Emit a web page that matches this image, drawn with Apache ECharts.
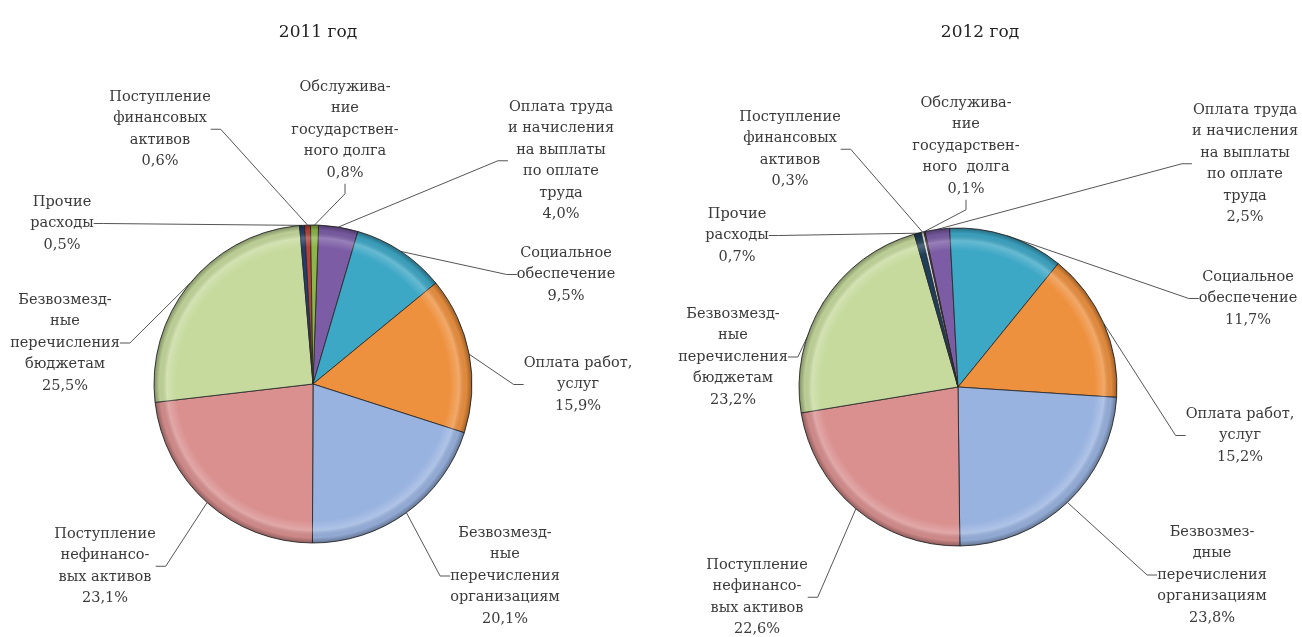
<!DOCTYPE html>
<html>
<head>
<meta charset="utf-8">
<script src="https://cdn.jsdelivr.net/npm/echarts@6/dist/echarts.min.js"></script>
<style>
html,body{margin:0;padding:0;background:#fff;}
#chart{width:1302px;height:637px;}
</style>
</head>
<body>
<div id="chart"></div>
<script>
// ---- data ----
const titles = ['2011 год', '2012 год'];
const categories = [
  'Оплата труда и начисления на выплаты по оплате труда',
  'Социальное обеспечение',
  'Оплата работ, услуг',
  'Безвозмездные перечисления организациям',
  'Поступление нефинансовых активов',
  'Безвозмездные перечисления бюджетам',
  'Прочие расходы',
  'Поступление финансовых активов',
  'Обслуживание государственного долга'
];
const values2011 = [4.0, 9.5, 15.9, 20.1, 23.1, 25.5, 0.5, 0.6, 0.8];
const values2012 = [2.5, 11.7, 15.2, 23.8, 22.6, 23.2, 0.7, 0.3, 0.1];
const labelText2011 = [
  'Оплата труда\nи начисления\nна выплаты\nпо оплате\nтруда',
  'Социальное\nобеспечение',
  'Оплата работ,\nуслуг',
  'Безвозмезд-\nные\nперечисления\nорганизациям',
  'Поступление\nнефинансо-\nвых активов',
  'Безвозмезд-\nные\nперечисления\nбюджетам',
  'Прочие\nрасходы',
  'Поступление\nфинансовых\nактивов',
  'Обслужива-\nние\nгосударствен-\nного долга'
];
const labelText2012 = [
  'Оплата труда\nи начисления\nна выплаты\nпо оплате\nтруда',
  'Социальное\nобеспечение',
  'Оплата работ,\nуслуг',
  'Безвозмез-\nдные\nперечисления\nорганизациям',
  'Поступление\nнефинансо-\nвых активов',
  'Безвозмезд-\nные\nперечисления\nбюджетам',
  'Прочие\nрасходы',
  'Поступление\nфинансовых\nактивов',
  'Обслужива-\nние\nгосударствен-\nного  долга'
];

// ---- layout / style ----
const colors2011 = ['#7B5CA5', '#3DA7C6', '#EE913F', '#99B3E0', '#D9908F', '#C6DA9D', '#1F3F6E', '#B8403B', '#8DB548'];
const colors2012 = ['#7B5CA5', '#3DA7C6', '#EE913F', '#99B3E0', '#D9908F', '#C6DA9D', '#1E3F5A', '#D3DBEA', '#C0504D'];
// label anchor: [center x, first line center y]
const labelPos2011 = [[561,107],[566,253],[578,363],[505,533],[105,534],[65,300],[62,202],[160,97],[345,87]];
const labelPos2012 = [[1245,110],[1248,277],[1240,414],[1212,532],[757,565],[733,314],[737,214],[790,117],[966,103]];
const LH = 21.5;
const FONT = 'DejaVu Serif';

function fmt(v){ return v.toFixed(1).replace('.', ',') + '%'; }

function buildData(values, texts, cols){
  return values.map((v,i)=>({
    name: categories[i],
    value: v,
    itemStyle: {color: cols[i]},
    label: {formatter: texts[i] + '\n' + fmt(v)}
  }));
}

function makeSeries(values, texts, cols, center, startAngle, pos){
  return {
    type: 'pie',
    center: center,
    radius: 159,
    startAngle: startAngle,
    clockwise: true,
    avoidLabelOverlap: false,
    animation: false,
    data: buildData(values, texts, cols),
    itemStyle: {borderColor: 'rgba(40,40,40,0.85)', borderWidth: 1},
    label: {
      show: true,
      position: 'outside',
      fontFamily: FONT,
      fontSize: 14.5,
      lineHeight: LH,
      color: '#3a3a3a',
      align: 'center'
    },
    labelLine: {show: true, length: 15, length2: 10, lineStyle: {color: '#555', width: 1}},
    labelLayout: function(p){
      const q = pos[p.dataIndex];
      return {x: q[0], y: q[1] - LH/2, align: 'center', verticalAlign: 'top'};
    },
    emphasis: {disabled: true}
  };
}

function overlay(center){
  return {
    type: 'pie',
    center: center,
    radius: 159,
    silent: true,
    animation: false,
    z: 5,
    label: {show: false},
    labelLine: {show: false},
    data: [{
      value: 1,
      itemStyle: {
        color: {
          type: 'radial', x: 0.5, y: 0.5, r: 0.5,
          colorStops: [
            {offset: 0, color: 'rgba(255,255,255,0)'},
            {offset: 0.86, color: 'rgba(255,255,255,0)'},
            {offset: 0.92, color: 'rgba(255,255,255,0.22)'},
            {offset: 0.965, color: 'rgba(0,0,0,0.05)'},
            {offset: 1, color: 'rgba(0,0,0,0.35)'}
          ]
        }
      }
    }],
    emphasis: {disabled: true}
  };
}

const chart = echarts.init(document.getElementById('chart'), null, {renderer: 'canvas'});
chart.setOption({
  backgroundColor: '#fff',
  title: [
    {text: titles[0], left: 313, top: 19, textAlign: 'center', textStyle: {fontFamily: FONT, fontSize: 17, fontWeight: 'normal', color: '#222'}},
    {text: titles[1], left: 975, top: 19, textAlign: 'center', textStyle: {fontFamily: FONT, fontSize: 17, fontWeight: 'normal', color: '#222'}}
  ],
  series: [
    makeSeries(values2011, labelText2011, colors2011, [313, 384], 88, labelPos2011),
    makeSeries(values2012, labelText2012, colors2012, [958, 387], 102, labelPos2012),
    overlay([313, 384]),
    overlay([958, 387])
  ]
});
</script>
</body>
</html>
